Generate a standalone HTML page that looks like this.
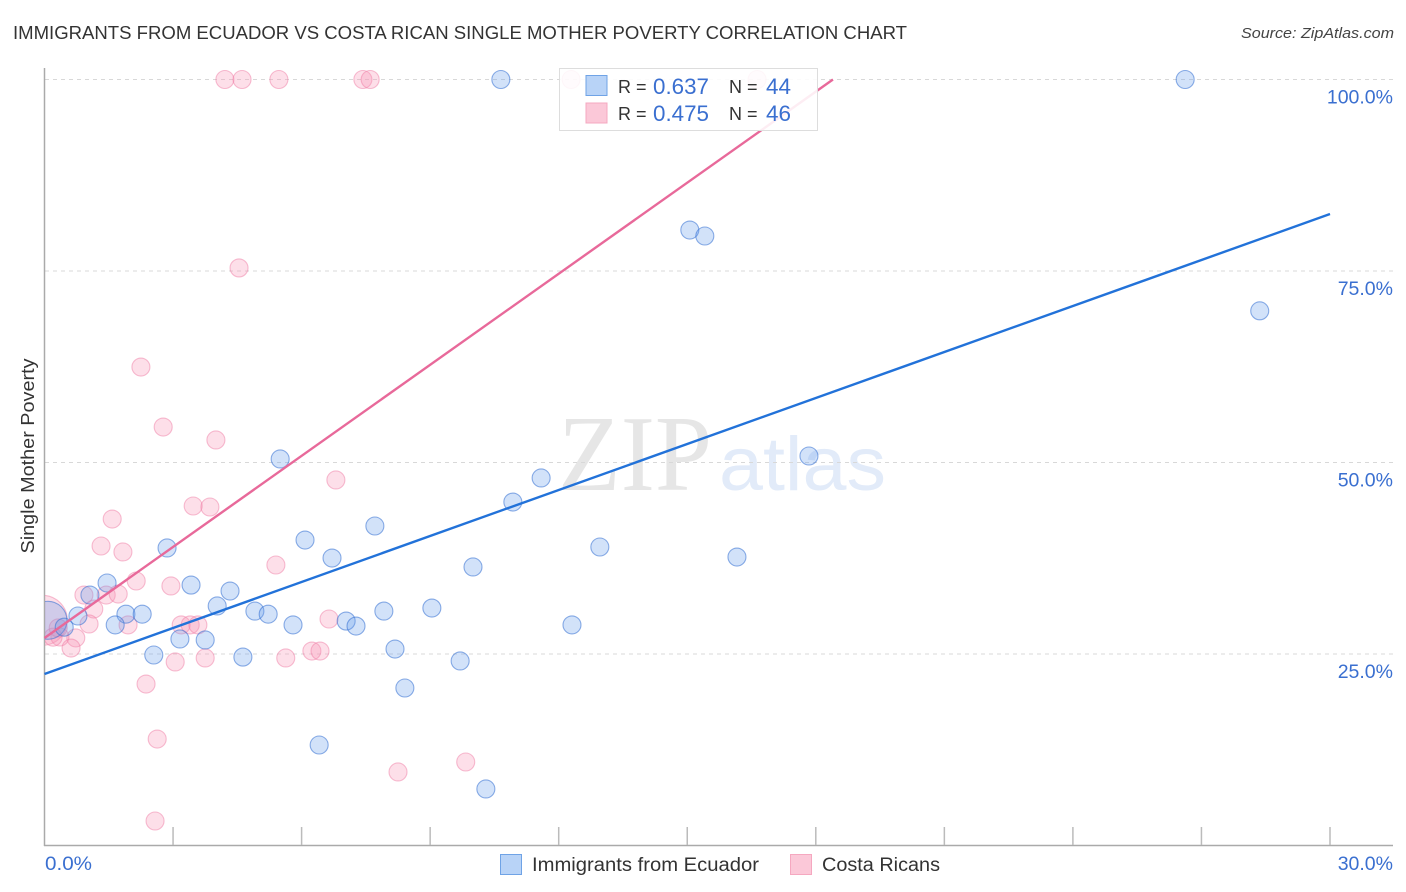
<!DOCTYPE html>
<html lang="en">
<head>
<meta charset="utf-8">
<title>Immigrants from Ecuador vs Costa Rican Single Mother Poverty Correlation Chart</title>
<style>
html,body{margin:0;padding:0;background:#fff;width:1406px;height:892px;overflow:hidden}
svg{display:block;font-family:"Liberation Sans",sans-serif}
</style>
</head>
<body>
<svg id="chart" width="1406" height="892" viewBox="0 0 1406 892" xmlns="http://www.w3.org/2000/svg">
  <defs>
    <clipPath id="plot-clip"><rect x="45" y="60" width="1348" height="785"/></clipPath>
  </defs>
  <text x="13" y="39" font-size="18.5" fill="#333" textLength="894" lengthAdjust="spacingAndGlyphs">IMMIGRANTS FROM ECUADOR VS COSTA RICAN SINGLE MOTHER POVERTY CORRELATION CHART</text>
  <text x="1241" y="38" font-size="15" font-style="italic" fill="#444" textLength="153" lengthAdjust="spacingAndGlyphs">Source: ZipAtlas.com</text>
  <g>
    <text x="558" y="490" font-family="'Liberation Serif',serif" font-size="108" fill="#e6e6e6" textLength="154" lengthAdjust="spacingAndGlyphs">ZIP</text>
    <text x="719" y="490" font-size="76" fill="#e2ebf9" textLength="167" lengthAdjust="spacingAndGlyphs">atlas</text>
  </g>
  <g id="grid"></g>
  <g id="axes"></g>
  <g id="points" clip-path="url(#plot-clip)"></g>
  <g id="trends"></g>
  <text x="34" y="456" font-size="18" fill="#333" text-anchor="middle" transform="rotate(-90 34 456)" textLength="195" lengthAdjust="spacingAndGlyphs">Single Mother Poverty</text>
  <g>
    <rect x="559.5" y="68.5" width="258" height="62" fill="#fff" fill-opacity="0.88" stroke="#ddd"/>
    <rect x="586" y="75.5" width="21" height="20" fill="#b8d3f7" stroke="#6fa3e6"/>
    <rect x="586" y="103" width="21" height="20" fill="#fbc8d8" stroke="#f5a8c0"/>
    <g font-size="18" fill="#333">
      <text x="618" y="93">R =</text>
      <text x="618" y="120">R =</text>
      <text x="729" y="93">N =</text>
      <text x="729" y="120">N =</text>
    </g>
    <g font-size="22" fill="#3a6fd0">
      <text x="653" y="94" textLength="56" lengthAdjust="spacingAndGlyphs">0.637</text>
      <text x="653" y="121" textLength="56" lengthAdjust="spacingAndGlyphs">0.475</text>
      <text x="766" y="94" textLength="25" lengthAdjust="spacingAndGlyphs">44</text>
      <text x="766" y="121" textLength="25" lengthAdjust="spacingAndGlyphs">46</text>
    </g>
  </g>
  <g>
    <rect x="500.5" y="854.5" width="21" height="20" fill="#b8d3f7" stroke="#6fa3e6"/>
    <text x="532" y="871" font-size="19" fill="#333" textLength="227" lengthAdjust="spacingAndGlyphs">Immigrants from Ecuador</text>
    <rect x="790.5" y="854.5" width="21" height="20" fill="#fbc8d8" stroke="#f5a8c0"/>
    <text x="822" y="871" font-size="19" fill="#333" textLength="118" lengthAdjust="spacingAndGlyphs">Costa Ricans</text>
  </g>
</svg>
<script>
const xTickValues = [0, 3, 6, 9, 12, 15, 18, 21, 24, 27, 30];
const xTickLabels = ['0.0%', '30.0%'];
const yTickValues = [25, 50, 75, 100];
const yTickLabels = ['25.0%', '50.0%', '75.0%', '100.0%'];

const blueX = [0.08, 10.65, 26.62, 15.06, 15.41, 28.36, 17.84, 5.50, 11.59, 10.93, 7.71, 6.08, 2.86, 12.96, 16.16, 6.71, 10.0, 1.46, 3.42, 4.33, 1.06, 4.03, 4.91, 5.22, 7.92, 9.04, 1.9, 2.28, 0.78, 5.8, 7.04, 7.27, 12.31, 1.65, 0.46, 3.16, 3.75, 8.18, 2.55, 4.63, 9.7, 8.41, 6.41, 10.3];
const blueY = [29.4, 100, 100, 80.35, 79.57, 69.8, 50.85, 50.46, 47.98, 44.84, 41.71, 39.88, 38.84, 38.97, 37.66, 37.53, 36.36, 34.27, 34.0, 33.22, 32.7, 31.27, 30.6, 30.2, 30.6, 31.0, 30.2, 30.2, 29.96, 28.8, 29.3, 28.65, 28.8, 28.8, 28.5, 26.96, 26.83, 25.65, 24.87, 24.6, 24.09, 20.56, 13.12, 7.38];

const pinkX = [-0.05, 4.21, 4.61, 5.47, 7.43, 7.6, 12.29, 16.63, 4.54, 2.25, 2.77, 4.0, 6.8, 3.47, 3.86, 1.58, 1.32, 1.83, 5.4, 2.14, 2.95, 0.92, 1.44, 1.72, 1.15, 6.64, 1.04, 1.95, 3.19, 3.4, 3.58, 0.73, 0.36, 0.2, 0.62, 6.24, 6.43, 3.05, 3.75, 5.63, 2.37, 2.63, 8.25, 9.83, 2.58, 0.32];
const pinkY = [29.4, 100, 100, 100, 100, 100, 100, 100, 75.4, 62.46, 54.63, 52.94, 47.72, 44.32, 44.19, 42.62, 39.1, 38.32, 36.62, 34.53, 33.88, 32.7, 32.7, 32.83, 30.87, 29.57, 28.92, 28.8, 28.8, 28.8, 28.8, 27.1, 27.22, 27.2, 25.78, 25.39, 25.39, 23.96, 24.48, 24.48, 21.08, 13.9, 9.6, 10.9, 3.2, 28.4];

const blueTrendX = [0, 30];
const blueTrendY = [22.39, 82.44];
const pinkTrendX = [0, 18.4];
const pinkTrendY = [27.09, 100];

const NS = 'http://www.w3.org/2000/svg';
const sx = v => 44.5 + v / 30 * 1285.5;
const sy = v => 845.5 - v / 100 * 766;

function mk(tag, parent, attrs, text) {
  const el = document.createElementNS(NS, tag);
  for (const k in attrs) el.setAttribute(k, attrs[k]);
  if (text !== undefined) el.textContent = text;
  parent.appendChild(el);
  return el;
}

const gridG = document.getElementById('grid');
const axesG = document.getElementById('axes');
const pointsG = document.getElementById('points');
const trendsG = document.getElementById('trends');

yTickValues.forEach((v, i) => {
  const line = mk('line', gridG, {x1: 45, x2: 1393, y1: sy(v), y2: sy(v), stroke: '#d8d8d8', 'stroke-width': 1, 'stroke-dasharray': '4 4'});
  
  
  const label = mk('text', axesG, {x: 1393, y: sy(v) + 24, 'font-size': 19.5, fill: '#3a6fd0', 'text-anchor': 'end'}, yTickLabels[i]);
  
  
});

const yAxis = mk('line', axesG, {x1: 44.5, x2: 44.5, y1: 68, y2: 846, stroke: '#aaa', 'stroke-width': 1.5});


const xAxis = mk('line', axesG, {x1: 44, x2: 1393, y1: 845.5, y2: 845.5, stroke: '#aaa', 'stroke-width': 1.5});



xTickValues.slice(1).forEach(v => {
  const tick = mk('line', axesG, {x1: sx(v), x2: sx(v), y1: 827, y2: 845, stroke: '#bbb', 'stroke-width': 1.5});
  
  
});

const xLabelLeft = mk('text', axesG, {x: 45, y: 870, 'font-size': 19.5, fill: '#3a6fd0', textLength: 47, lengthAdjust: 'spacingAndGlyphs'}, xTickLabels[0]);


const xLabelRight = mk('text', axesG, {x: 1393, y: 870, 'font-size': 19.5, fill: '#3a6fd0', 'text-anchor': 'end'}, xTickLabels[1]);



// The first point in each series is the large aggregate bubble at the axis.
pinkX.forEach((v, i) => {
  const c = mk('circle', pointsG, {cx: sx(v), cy: sy(pinkY[i]), r: i === 0 ? 25 : 9, fill: 'rgba(249,150,182,0.3)', stroke: 'rgba(240,125,165,0.5)', 'stroke-width': 1.1});
  
  
});
blueX.forEach((v, i) => {
  const c = mk('circle', pointsG, {cx: sx(v), cy: sy(blueY[i]), r: i === 0 ? 19 : 9, fill: 'rgba(105,160,235,0.3)', stroke: 'rgba(50,110,210,0.55)', 'stroke-width': 1.1});
  
  
});

const trendPink = mk('line', trendsG, {x1: sx(pinkTrendX[0]), y1: sy(pinkTrendY[0]), x2: sx(pinkTrendX[1]), y2: sy(pinkTrendY[1]), stroke: '#e8699a', 'stroke-width': 2.4});


const trendBlue = mk('line', trendsG, {x1: sx(blueTrendX[0]), y1: sy(blueTrendY[0]), x2: sx(blueTrendX[1]), y2: sy(blueTrendY[1]), stroke: '#2272d9', 'stroke-width': 2.4});


</script>
</body>
</html>
